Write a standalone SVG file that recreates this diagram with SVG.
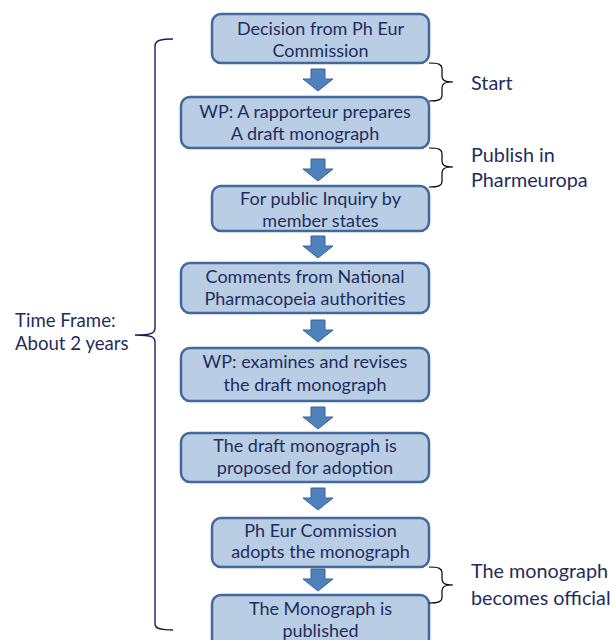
<svg xmlns="http://www.w3.org/2000/svg" width="614" height="640" viewBox="0 0 614 640">
<style>
.box{fill:#b9cde5;stroke:#41699b;stroke-width:2.5}
.bt{font-family:Lato,"Open Sans",sans-serif;font-size:18px;fill:#1f2d5c;text-anchor:middle}
.lbl{font-family:Lato,"Open Sans",sans-serif;font-size:19.8px;fill:#1f2d5c}
.lbl2{font-family:Lato,"Open Sans",sans-serif;font-size:18.6px;fill:#1f2d5c}
.arr{fill:#4f81bd;stroke:#3a639a;stroke-width:1}
.br{fill:none;stroke:#000;stroke-width:1.2}
.brl{fill:none;stroke:#1c1a5c;stroke-width:1.4}
</style>
<defs>
<path id="ar" d="M311,0 L325,0 L325,10 L333,10 L318,22 L303,10 L311,10 Z"/>
</defs>
<g id="connectors">
<use href="#ar" class="arr" y="69"/>
<use href="#ar" class="arr" y="159"/>
<use href="#ar" class="arr" y="236"/>
<use href="#ar" class="arr" y="320"/>
<use href="#ar" class="arr" y="407"/>
<use href="#ar" class="arr" y="488"/>
<use href="#ar" class="arr" y="569"/>
</g>
<g id="n1"><rect class="box" x="212" y="14" width="217" height="49" rx="9"/>
<text class="bt" x="320.5" y="35">Decision from Ph Eur</text><text class="bt" x="320.5" y="57">Commission</text></g>
<g id="n2"><rect class="box" x="181" y="97" width="248" height="51" rx="9"/>
<text class="bt" x="305" y="118">WP: A rapporteur prepares</text><text class="bt" x="305" y="140">A draft monograph</text></g>
<g id="n3"><rect class="box" x="212" y="186" width="217" height="45" rx="9"/>
<text class="bt" x="320.5" y="205">For public Inquiry by</text><text class="bt" x="320.5" y="227">member states</text></g>
<g id="n4"><rect class="box" x="181" y="263" width="248" height="50" rx="9"/>
<text class="bt" x="305" y="283">Comments from National</text><text class="bt" x="305" y="305">Pharmacopeia authorities</text></g>
<g id="n5"><rect class="box" x="181" y="348" width="248" height="53" rx="9"/>
<text class="bt" x="305" y="368">WP: examines and revises</text><text class="bt" x="305" y="391">the draft monograph</text></g>
<g id="n6"><rect class="box" x="181" y="433" width="248" height="49" rx="9"/>
<text class="bt" x="305" y="452">The draft monograph is</text><text class="bt" x="305" y="474">proposed for adoption</text></g>
<g id="n7"><rect class="box" x="212" y="518" width="217" height="49" rx="9"/>
<text class="bt" x="320.5" y="537">Ph Eur Commission</text><text class="bt" x="320.5" y="558">adopts the monograph</text></g>
<g id="n8"><rect class="box" x="212" y="595" width="217" height="52" rx="9"/>
<text class="bt" x="320.5" y="615">The Monograph is</text><text class="bt" x="320.5" y="637">published</text></g>
<g id="brackets">
<path class="brl" d="M173,39 C162,39 155,40 155,46 L155,328 C155,333 152,335 135,335 C152,335 155,337 155,342 L155,624 C155,629 162,630 173,630"/>
<path class="br" d="M429,63 C438,63 442,64 442,69 L442,76 C442,80 444,82 453,82 C444,82 442,84 442,88 L442,95 C442,100 438,101 429,101"/>
<path class="br" d="M429,148 C438,148 442,149 442,154 L442,161 C442,165 444,167 453,167 C444,167 442,169 442,173 L442,181 C442,186 438,187 429,187"/>
<path class="br" d="M429,567 C438,567 442,568 442,573 L442,579 C442,583 444,585 453,585 C444,585 442,587 442,591 L442,597 C442,602 438,603 429,603"/>
</g>
<g id="labels">
<text class="lbl" x="471" y="90">Start</text>
<text class="lbl" x="471" y="162">Publish in</text>
<text class="lbl" x="471" y="187">Pharmeuropa</text>
<text class="lbl" x="471" y="578">The monograph</text>
<text class="lbl" x="471" y="605">becomes official</text>
<text class="lbl2" x="15" y="327">Time Frame:</text>
<text class="lbl2" x="15" y="350">About 2 years</text>
</g>
</svg>
